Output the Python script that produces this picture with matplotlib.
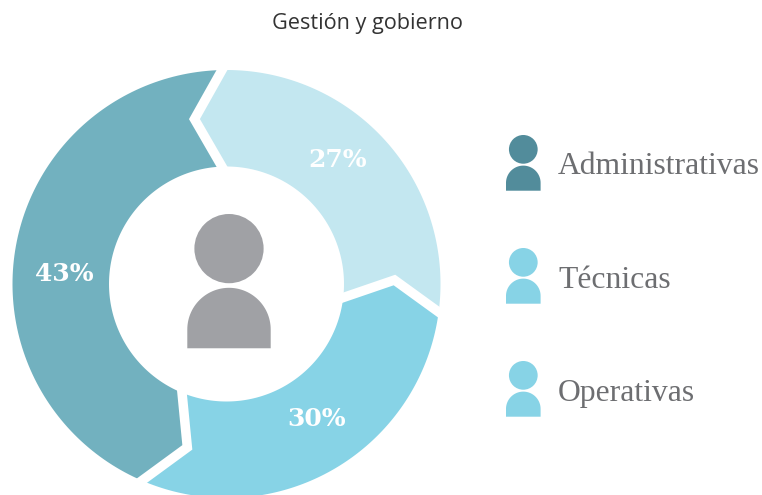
import numpy as np
import matplotlib
matplotlib.use("Agg")
import matplotlib.pyplot as plt
from matplotlib.patches import Circle

title = "Gestión y gobierno"
shares = [27.4, 29.4, 43.2]
share_labels = ["27%", "30%", "43%"]
share_colors = ["#c3e7f0", "#87d3e6", "#72b1bf"]
legend_names = ["Administrativas", "Técnicas", "Operativas"]
legend_colors = ["#528c9b", "#87d3e6", "#87d3e6"]

cx, cy = 226.5, 284
r_out, r_in = 214, 117.5
r_mid = 168
start = 0.0
notches = [11, 10, 11, 11]
gap = 9.5 * 72 / 100

fig = plt.figure(figsize=(7.62, 4.95), dpi=100)
ax = fig.add_axes([0, 0, 1, 1])
ax.set_xlim(0, 762)
ax.set_ylim(495, 0)
ax.axis("off")


def pt(r, deg):
    a = np.radians(deg)
    return cx + r * np.sin(a), cy - r * np.cos(a)


def person(x, top, s, color):
    # head and shoulders, s = half width of the body
    head = s * 0.83
    ax.add_patch(Circle((x, top + head), head, fc=color, ec="none"))
    y0 = top + 2 * head + s * 0.11
    t = np.linspace(np.pi, 0, 60)
    xs = x + s * np.cos(t)
    ys = y0 + s - s * np.sin(t)
    bottom = y0 + s * 1.45
    ax.fill(np.r_[xs, x + s, x - s], np.r_[ys, bottom, bottom], color=color, lw=0)


# ring segments, each one with an arrow shaped end
edges = start + np.cumsum([0] + shares) * 3.6
for i in range(3):
    a0, a1 = edges[i], edges[i + 1]
    t = np.linspace(a0, a1, 120)
    ox, oy = pt(r_out, t)
    ix, iy = pt(r_in, t[::-1])
    x1, y1 = pt(r_mid, a1 - notches[i + 1])
    x0, y0 = pt(r_mid, a0 - notches[i])
    ax.fill(np.r_[ox, x1, ix, x0], np.r_[oy, y1, iy, y0], color=share_colors[i], lw=0)

# white gaps between the segments
for a, n in zip(edges[:-1], notches):
    x0, y0 = pt(r_out + 8, a)
    xm, ym = pt(r_mid, a - n)
    x1, y1 = pt(r_in - 8, a)
    ax.plot([x0, xm, x1], [y0, ym, y1], color="white", lw=gap,
            solid_joinstyle="miter", solid_capstyle="butt")

label_pos = [(337.5, 160), (317, 419), (64.5, 274)]
for s, (x, y) in zip(share_labels, label_pos):
    ax.text(x, y, s, color="white", ha="center", va="center",
            family="DejaVu Serif", weight="bold", fontsize=18)

person(229, 214, 41.7, "#a0a1a5")

ax.text(367, 29.5, title, ha="center", va="baseline", family="Open Sans",
        fontsize=15.6, color="#333333")

for i, (name, col) in enumerate(zip(legend_names, legend_colors)):
    person(523.3, 135 + i * 113, 17.3, col)
    ax.text(558, 174.5 + i * 113, name, ha="left", va="baseline",
            family="Liberation Serif", fontsize=22.8, color="#6d6e71")

fig.savefig("out.png", dpi=100)
